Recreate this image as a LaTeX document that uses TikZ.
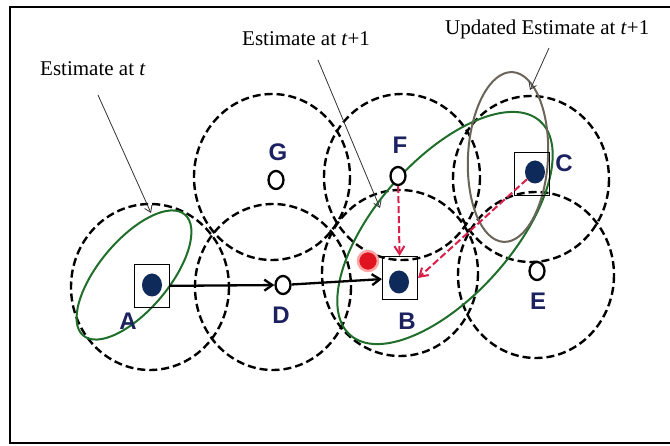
\documentclass[tikz,border=0pt]{standalone}
\usepackage{fontspec}
\setmainfont{Liberation Serif}
\newfontfamily\labelfont{Liberation Sans}
\usetikzlibrary{arrows.meta,shapes.geometric}
\definecolor{navy}{HTML}{1C2260}
\definecolor{dotblue}{HTML}{0D2A5A}
\definecolor{estgreen}{HTML}{1F6E2A}
\definecolor{updgray}{HTML}{6B6458}
\definecolor{moveRed}{HTML}{D8204A}
\definecolor{ptRed}{HTML}{E0141E}

\begin{document}
\begin{tikzpicture}[x=1pt,y=-1pt,
  rangecircle/.style={draw=black, line width=2.4pt, dash pattern=on 8pt off 4pt},
  anchorbox/.style={draw=black, line width=1.1pt, minimum width=35pt, minimum height=43pt, inner sep=0pt},
  known/.style={ellipse, fill=dotblue, minimum width=20pt, minimum height=23pt, inner sep=0pt},
  unknown/.style={ellipse, draw=black, line width=2.3pt, fill=white, minimum width=15pt, minimum height=18pt, inner sep=0pt},
  tag/.style={font=\labelfont\bfseries\fontsize{24}{24}\selectfont, text=navy, inner sep=0pt},
  est/.style={font=\fontsize{21}{24}\selectfont, inner sep=0pt},
  pointer/.style={draw=black!80, line width=0.8pt, -{Straight Barb[length=6pt,width=8pt]}},
  hop/.style={draw=black, line width=2.3pt, -{Straight Barb[length=8pt,width=11pt]}},
  refine/.style={draw=moveRed, line width=2pt, dash pattern=on 7pt off 3pt, -{Straight Barb[length=8pt,width=10pt,line width=2pt]}},
  estellipse/.style={draw=estgreen, line width=2pt},
]
\useasboundingbox (0,0) rectangle (670,446);
\fill[white] (0,0) rectangle (670,446);

% frame (open on the right)
\draw[line width=2pt] (680,7) -- (10,7) -- (10,443) -- (680,443);

% radio ranges of the anchors and neighbours
\draw[rangecircle] (150,287) ellipse [x radius=79, y radius=83];
\draw[rangecircle] (273,287) ellipse [x radius=78, y radius=83];
\draw[rangecircle] (272,177) ellipse [x radius=78, y radius=83];
\draw[rangecircle] (402,177) ellipse [x radius=78, y radius=83];
\draw[rangecircle] (400,273) ellipse [x radius=78, y radius=83];
\draw[rangecircle] (531,179) ellipse [x radius=78, y radius=83];
\draw[rangecircle] (536,275) ellipse [x radius=78, y radius=83];

% position estimates
\draw[estellipse, rotate around={50:(134,275)}] (134,275) ellipse [x radius=79, y radius=35];
\draw[estellipse, rotate around={48.4:(445,228)}] (445,228) ellipse [x radius=143, y radius=68];
\draw[draw=updgray, line width=2pt, rotate around={-3:(508,157)}] (508,157) ellipse [x radius=40, y radius=85];

% anchors
\node[anchorbox] (boxA) at (152,286) {};
\node[known] (A) at (152,285) {};
\node[anchorbox] (boxB) at (400,278) {};
\node[known] (B) at (399,282) {};
\node[anchorbox] (boxC) at (532,174) {};
\node[known] (C) at (535,172) {};

% unknown nodes
\node[unknown] (D) at (283,285) {};
\node[unknown] (G) at (276,180) {};
\node[unknown] (F) at (398,176) {};
\node[unknown] (E) at (537,271) {};

% estimated point
\node[circle, fill=ptRed, draw=red!35, line width=2.5pt, minimum size=20pt, inner sep=0pt] (R) at (368,261) {};

% labels
\node[tag] at (128,321) {A};
\node[tag] at (407,321) {B};
\node[tag] at (564,163) {C};
\node[tag] at (281,315) {D};
\node[tag] at (538,301) {E};
\node[tag] at (400,145) {F};
\node[tag] at (278,152) {G};

% movement
\draw[hop] (boxA) -- (D);
\draw[hop] (D) -- (boxB);
\draw[refine] (F) -- (boxB);
\draw[refine] (C) -- (boxB.east);

% annotations
\node[est, anchor=base west] (lt) at (40,76) {Estimate at \textit{t}};
\node[est, anchor=base west] (lt1) at (242,46) {Estimate at \textit{t}+1};
\node[est, anchor=base west] (lu) at (445,35) {Updated Estimate at \textit{t}+1};
\coordinate (fromA) at (98,95);
\coordinate (fromB) at (318,60);
\coordinate (fromC) at (549,48);
\coordinate (tipA) at (151,213);
\coordinate (tipB) at (380,208);
\coordinate (tipC) at (530,90);
\draw[pointer] (fromA) -- (tipA);
\draw[pointer] (fromB) -- (tipB);
\draw[pointer] (fromC) -- (tipC);
\end{tikzpicture}
\end{document}
